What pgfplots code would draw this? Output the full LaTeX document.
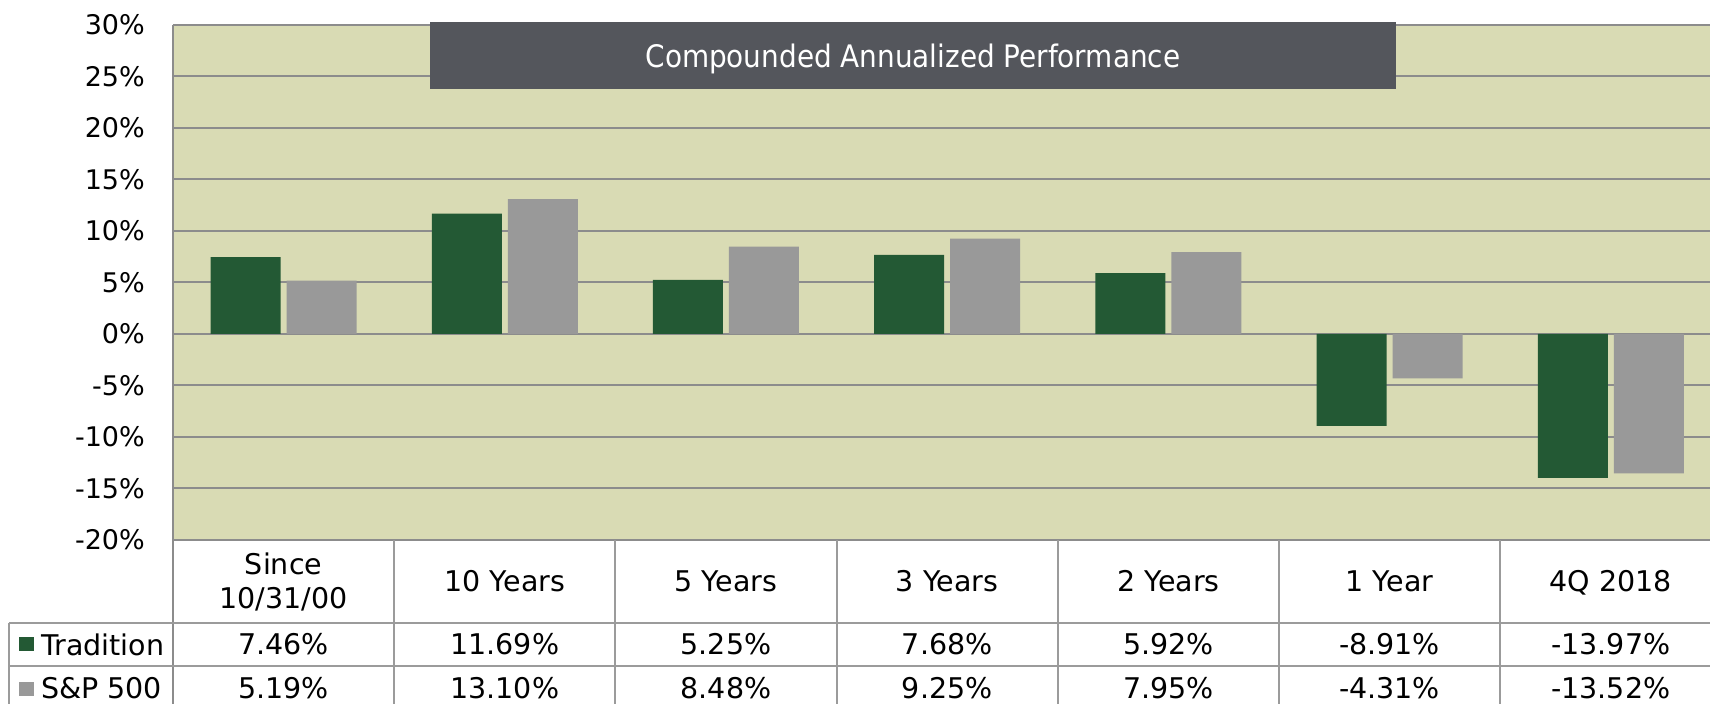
\documentclass[border=0pt]{standalone}
\usepackage{pgfplots}
\pgfplotsset{compat=1.18}
\usepackage{pgfplotstable}
\usepackage{fontspec}
\setmainfont{DejaVu Sans}
\newfontfamily\condfont{DejaVu Sans Condensed}
\definecolor{plotbg}{RGB}{217,219,180}
\definecolor{tradgreen}{RGB}{35,89,52}
\definecolor{spgray}{RGB}{153,153,153}
\definecolor{gridgray}{RGB}{140,140,140}
\definecolor{tablegray}{RGB}{155,155,155}
\definecolor{titlebox}{RGB}{84,86,92}
\pgfplotstableread{
x trad sp
0.5 7.46 5.19
1.5 11.69 13.10
2.5 5.25 8.48
3.5 7.68 9.25
4.5 5.92 7.95
5.5 -8.91 -4.31
6.5 -13.97 -13.52
}\perfdata
\newcommand{\tabfont}{\fontsize{28.5}{34}\selectfont}
\begin{document}
\begin{tikzpicture}[x=1pt,y=1pt]
\useasboundingbox (-173,-164) rectangle (1537,540);
\clip (-173,-164) rectangle (1537,540);
\begin{axis}[
  at={(0,0)}, anchor=south west,
  scale only axis, width=1548.4pt, height=515pt,
  xmin=0, xmax=7, ymin=-20, ymax=30,
  clip=false,
  axis line style={draw=none},
  axis background/.style={fill=plotbg},
  ymajorgrids, grid style={draw=gridgray, line width=2pt},
  ytick={-20,-15,-10,-5,0,5,10,15,20,25,30},
  yticklabels={-20\%,-15\%,-10\%,-5\%,0\%,5\%,10\%,15\%,20\%,25\%,30\%},
  xtick={0.5,1.5,2.5,3.5,4.5,5.5,6.5},
  xticklabels={{\strut Since\\10/31/00\strut},\strut 10 Years,\strut 5 Years,\strut 3 Years,\strut 2 Years,\strut 1 Year,\strut 4Q 2018},
  major tick length=0pt,
  tick label style={font=\fontsize{27}{32}\selectfont, text=black},
  yticklabel style={anchor=east, inner sep=0pt, xshift=-28pt},
  xticklabel style={anchor=center, align=center, inner sep=0pt, yshift=-44.8pt, font=\tabfont},
]
\addplot[ybar, bar width=70pt, bar shift=-38pt, fill=tradgreen, draw=none] table[x=x,y=trad]{\perfdata};
\addplot[ybar, bar width=70pt, bar shift=38pt, fill=spgray, draw=none] table[x=x,y=sp]{\perfdata};
\addplot[draw=none, mark=none, point meta=explicit symbolic,
  nodes near coords={\pgfplotspointmeta\%},
  every node near coord/.append style={anchor=center, font=\tabfont, text=black, inner sep=0pt}]
  table[x=x, y expr=-30.15, meta=trad]{\perfdata};
\addplot[draw=none, mark=none, point meta=explicit symbolic,
  nodes near coords={\pgfplotspointmeta\%},
  every node near coord/.append style={anchor=center, font=\tabfont, text=black, inner sep=0pt}]
  table[x=x, y expr=-34.4, meta=sp]{\perfdata};
\end{axis}
% table lines
\draw[gridgray, line width=2pt] (0,515) -- (0,-164);
\foreach \k in {1,...,6} {\draw[tablegray, line width=2pt] (221.2*\k,0) -- (221.2*\k,-164);}
\draw[tablegray, line width=2pt] (-164,-83) -- (1537,-83);
\draw[tablegray, line width=2pt] (-164,-126) -- (1537,-126);
\draw[tablegray, line width=2pt] (-164,-83) -- (-164,-164);
% legend column
\fill[tradgreen] (-154,-97) rectangle (-139,-111);
\node[anchor=west, inner sep=0pt, font=\tabfont] at (-132,-104.5) {Tradition};
\fill[spgray] (-154,-142) rectangle (-139,-156);
\node[anchor=west, inner sep=0pt, font=\tabfont] at (-132,-148) {S\&P 500};
% title box
\fill[titlebox] (257,518) rectangle (1223,450.5);
\node[text=white, font=\condfont\fontsize{31}{37}\selectfont] at (740,480.75) {Compounded Annualized Performance};
\end{tikzpicture}
\end{document}
